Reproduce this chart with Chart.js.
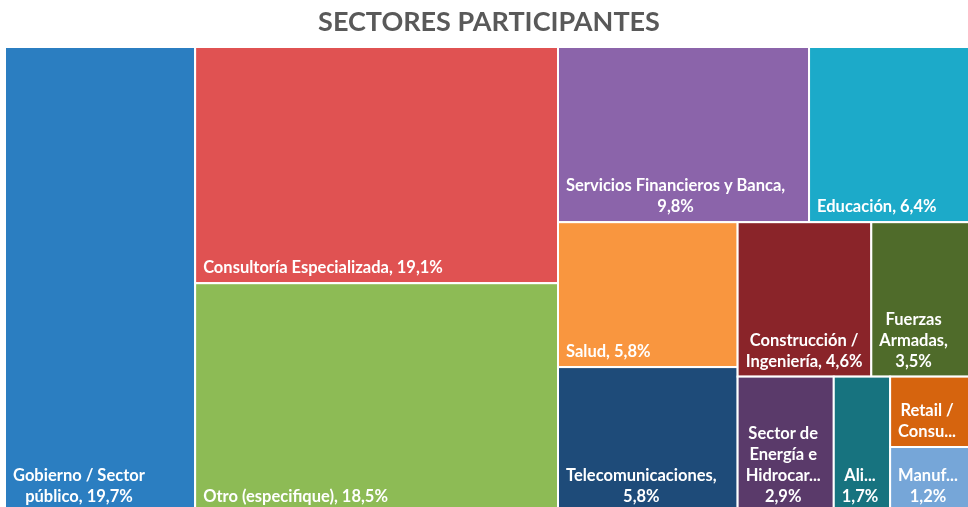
<!DOCTYPE html>
<html>
<head>
<meta charset="utf-8">
<script src="https://cdn.jsdelivr.net/npm/chart.js@4/dist/chart.umd.min.js"></script>
<style>
  html, body { margin: 0; padding: 0; background: #fff; overflow: hidden; }
  #wrap { position: absolute; left: 0; top: 0; width: 975px; height: 512px; }
</style>
</head>
<body>
<div id="wrap"><canvas id="chart"></canvas></div>
<script>
// sectors, share of respondents (%)
const categories = [
  'Gobierno / Sector público', 'Consultoría Especializada', 'Otro (especifique)',
  'Servicios Financieros y Banca', 'Educación', 'Salud', 'Telecomunicaciones',
  'Construcción / Ingeniería', 'Fuerzas Armadas', 'Sector de Energía e Hidrocarburos',
  'Alimentos y bebidas', 'Retail / Consumo masivo', 'Manufactura'
];
const values = [19.7, 19.1, 18.5, 9.8, 6.4, 5.8, 5.8, 4.6, 3.5, 2.9, 1.7, 1.3, 1.2];
// label text as it shows in the boxes (wrapped / cut like the original)
const labelLines = [
  ['Gobierno / Sector', 'público, 19,7%'],
  ['Consultoría Especializada, 19,1%'],
  ['Otro (especifique), 18,5%'],
  ['Servicios Financieros y Banca,', '9,8%'],
  ['Educación, 6,4%'],
  ['Salud, 5,8%'],
  ['Telecomunicaciones,', '5,8%'],
  ['Construcción /', 'Ingeniería, 4,6%'],
  ['Fuerzas', 'Armadas,', '3,5%'],
  ['Sector de', 'Energía e', 'Hidrocar...', '2,9%'],
  ['Ali...', '1,7%'],
  ['Retail /', 'Consu...'],
  ['Manuf...', '1,2%']
];
const colors = ['#2B7EC1', '#E05252', '#8DBB55', '#8B64AA', '#1CAAC9', '#F9963F', '#1E4B79',
  '#8A2429', '#4F6B2A', '#5A3A6A', '#17737F', '#D6640E', '#76A6D8'];

// how the boxes are nested: h = side by side, v = stacked
const grouping = ['h', 0, ['v', 1, 2],
  ['v', ['h', 3, 4],
        ['h', ['v', 5, 6],
              ['v', ['h', 7, 8],
                    ['h', 9, 10, ['v', 11, 12]]]]]];

function nodeSum(node) {
  if (typeof node === 'number') return values[node];
  return node.slice(1).reduce((s, n) => s + nodeSum(n), 0);
}

// rectangles in value space (0..100 on both axes)
function layout(node, x0, y0, x1, y1, out) {
  if (typeof node === 'number') { out[node] = [x0, y0, x1, y1]; return; }
  const kids = node.slice(1);
  const total = nodeSum(node);
  let pos = node[0] === 'h' ? x0 : y0;
  kids.forEach(k => {
    const frac = nodeSum(k) / total;
    if (node[0] === 'h') {
      const w = (x1 - x0) * frac;
      layout(k, pos, y0, pos + w, y1, out); pos += w;
    } else {
      const h = (y1 - y0) * frac;
      layout(k, x0, pos, x1, pos + h, out); pos += h;
    }
  });
}

const rects = [];
layout(grouping, 0, 0, 100, 100, rects);

const treemapPlugin = {
  id: 'treemap',
  afterDatasetsDraw(chart) {
    const ctx = chart.ctx;
    const xs = chart.scales.x, ys = chart.scales.y;
    ctx.save();
    rects.forEach((r, i) => {
      const left = xs.getPixelForValue(r[0]);
      const right = xs.getPixelForValue(r[2]);
      const top = ys.getPixelForValue(r[1]);
      const bottom = ys.getPixelForValue(r[3]);
      ctx.fillStyle = colors[i];
      ctx.fillRect(left, top, right - left, bottom - top);
      ctx.strokeStyle = '#ffffff';
      ctx.lineWidth = 2;
      ctx.strokeRect(left, top, right - left, bottom - top);

      // label block: lines centred on each other, block at bottom-left
      ctx.font = 'bold 16.5px Lato';
      ctx.fillStyle = '#ffffff';
      ctx.textBaseline = 'alphabetic';
      ctx.textAlign = 'center';
      const lines = labelLines[i];
      const blockW = Math.max(...lines.map(l => ctx.measureText(l).width));
      const cx = left + 8 + blockW / 2;
      const lh = 21;
      lines.forEach((l, j) => {
        const y = bottom - 10 - (lines.length - 1 - j) * lh;
        ctx.fillText(l, cx, y);
      });
    });
    ctx.restore();
  }
};

new Chart(document.getElementById('chart'), {
  type: 'scatter',
  data: { datasets: [{ data: [], label: 'Sectores' }] },
  options: {
    responsive: true,
    maintainAspectRatio: false,
    animation: false,
    layout: { padding: { left: 5, right: 2, top: 0, bottom: 0 } },
    plugins: {
      legend: { display: false },
      tooltip: { enabled: false },
      title: {
        display: true,
        text: 'SECTORES PARTICIPANTES',
        color: '#595959',
        font: { family: 'Lato', size: 27, weight: 'bold' },
        padding: { top: 6, bottom: 8.6 }
      }
    },
    scales: {
      x: { type: 'linear', min: 0, max: 100, display: false },
      y: { type: 'linear', min: 0, max: 100, reverse: true, display: false }
    }
  },
  plugins: [treemapPlugin]
});
</script>
</body>
</html>
